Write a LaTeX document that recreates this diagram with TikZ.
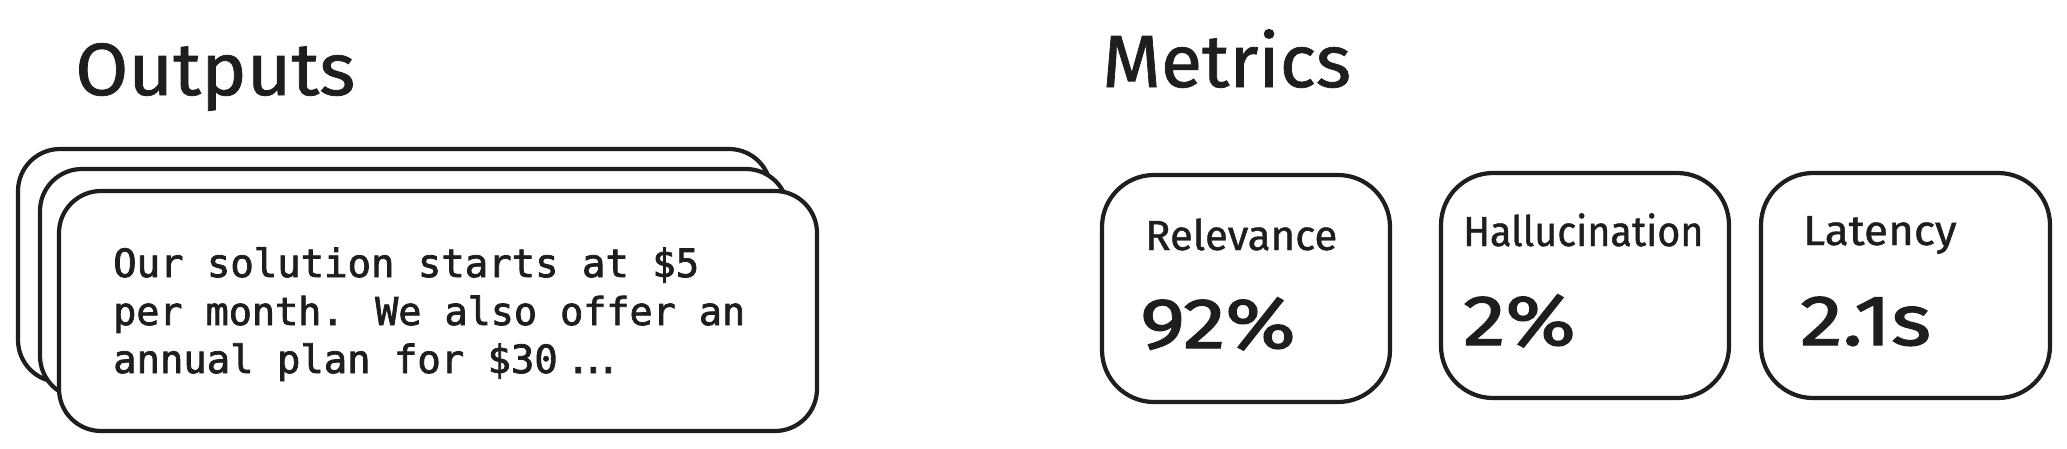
\documentclass[tikz,border=0pt]{standalone}
\usepackage{graphicx}
\usepackage{fontspec}
\setmainfont{Fira Sans}
\setmonofont{DejaVu Sans Mono}
\newfontfamily\handfont{Fira Sans}[FakeBold=1]
\newfontfamily\handvalue{Fira Sans}[FakeBold=2, FakeStretch=1.2]
\newfontfamily\codefont{DejaVu Sans Mono}[FakeBold=2]
\definecolor{ink}{HTML}{1E1E1E}
\begin{document}
\begin{tikzpicture}[x=1pt,y=-1pt,
  card/.style={draw=ink, line width=4.2pt, fill=white, rounded corners=42pt, inner sep=0pt},
  metricbox/.style={draw=ink, line width=4.2pt, fill=white, rounded corners=52pt, inner sep=0pt},
  title/.style={text=ink, anchor=base west, inner sep=0pt, font=\handfont\fontsize{74}{80}\selectfont},
  label/.style={text=ink, anchor=base west, inner sep=0pt, font=\handfont\fontsize{42}{48}\selectfont},
  value/.style={text=ink, anchor=base west, inner sep=0pt, font=\handvalue\fontsize{71}{80}\selectfont},
  mono/.style={text=ink, anchor=base west, inner sep=0pt, font=\codefont\fontsize{38.9}{48}\selectfont}]
\useasboundingbox (0,0) rectangle (2067,448);

% Outputs
\node[title] (outT) at (75,95) {\scalebox{1.04}[1]{Outputs}};
\node[card, minimum width=753pt, minimum height=233pt] (back) at (394.5,265.5) {};
\node[card, minimum width=748pt, minimum height=229pt] (mid) at (414,283.5) {};
\node[card, minimum width=758pt, minimum height=240pt] (front) at (438,311) {};
\node[mono] (l1) at (113,277) {\resizebox{586pt}{!}{Our solution starts at \$5}};
\node[mono] (l2) at (113,325) {\resizebox{632pt}{!}{per month. We also offer an}};
\node[mono] (l3) at (113,373) {\resizebox{444.6pt}{!}{annual plan for \$30}\hspace{13pt}\makebox[15pt]{.}\makebox[15pt]{.}\makebox[15pt]{.}};

% Metrics
\node[title] (metT) at (1102,87) {\scalebox{1.02}[1]{Metrics}};
\node[metricbox, minimum width=288pt, minimum height=227pt] (m1) at (1246,288.5) {};
\node[metricbox, minimum width=288pt, minimum height=225pt] (m2) at (1585,285.5) {};
\node[metricbox, minimum width=289pt, minimum height=225pt] (m3) at (1905.5,285.5) {};

\node[label] (r1) at (1145,250) {Relevance};
\node[value] (v1) at (1140,348) {92\%};
\node[label] (r2) at (1463,246) {\scalebox{0.94}[1]{Hallucination}};
\node[value] (v2) at (1463,345) {2\%};
\node[label] (r3) at (1803,245) {\scalebox{1.05}[1]{Latency}};
\node[value] (v3) at (1800,345) {2.1s};
\end{tikzpicture}
\end{document}
